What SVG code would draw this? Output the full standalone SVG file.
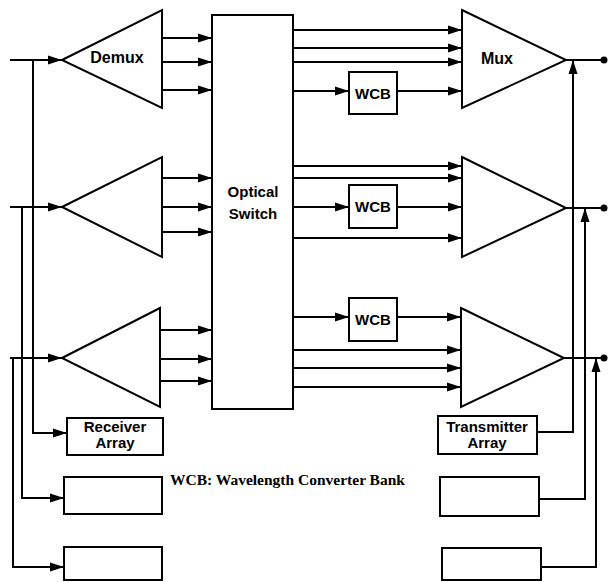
<svg xmlns="http://www.w3.org/2000/svg" width="608" height="582" viewBox="0 0 608 582">
<style>
.s{fill:none;stroke:#000;stroke-width:2}
.b{fill:#fff;stroke:#000;stroke-width:2}
.t{font-family:"Liberation Sans",Arial,sans-serif;font-weight:bold;font-size:15px;text-anchor:middle;fill:#000}
.l{font-family:"Liberation Serif","Times New Roman",serif;font-weight:bold;font-size:15.5px;fill:#000}
.a{marker-end:url(#ah)}
</style>
<defs>
<marker id="ah" markerWidth="14" markerHeight="10" refX="14" refY="5" orient="auto" markerUnits="userSpaceOnUse">
<path d="M0,0.5 L14,5 L0,9.5 z" fill="#000"/>
</marker>
</defs>
<g id="connectors" class="s">
<path class="a" d="M10,60 H62"/>
<path class="a" d="M10,207 H62"/>
<path class="a" d="M10,358 H62"/>
<path class="a" d="M33,60 V433 H67"/>
<path class="a" d="M22,207 V498 H64"/>
<path class="a" d="M13,358 V567 H64"/>
<path class="a" d="M162,38 H212"/>
<path class="a" d="M162,62 H212"/>
<path class="a" d="M162,90 H212"/>
<path class="a" d="M162,178 H212"/>
<path class="a" d="M162,207 H212"/>
<path class="a" d="M162,232 H212"/>
<path class="a" d="M160,330 H212"/>
<path class="a" d="M160,359 H212"/>
<path class="a" d="M160,381 H212"/>
<path class="a" d="M293,30 H462"/>
<path class="a" d="M293,48 H462"/>
<path class="a" d="M293,62 H462"/>
<path class="a" d="M293,91 H349"/>
<path class="a" d="M397,91 H462"/>
<path class="a" d="M293,166 H462"/>
<path class="a" d="M293,178 H462"/>
<path class="a" d="M293,207 H349"/>
<path class="a" d="M397,207 H462"/>
<path class="a" d="M293,238 H462"/>
<path class="a" d="M293,317 H349"/>
<path class="a" d="M397,317 H461"/>
<path class="a" d="M293,350 H461"/>
<path class="a" d="M293,368 H461"/>
<path class="a" d="M293,387 H461"/>
<path d="M566,60 H604"/>
<path d="M566,208 H604"/>
<path d="M564,358 H604"/>
<path class="a" d="M537,432 H573 V60"/>
<path class="a" d="M539,499 H585 V208"/>
<path class="a" d="M541,567 H596 V358"/>
</g>
<g id="dots" fill="#000">
<circle cx="604" cy="60" r="3.5"/>
<circle cx="604" cy="208" r="3.5"/>
<circle cx="604" cy="358" r="3.5"/>
</g>
<g id="demux1"><polygon class="b" points="62,60 162,10 162,108"/><text class="t" x="117" y="63" style="font-size:16px">Demux</text></g>
<g id="demux2"><polygon class="b" points="62,207 162,157 162,257"/></g>
<g id="demux3"><polygon class="b" points="62,358 160,308 160,407"/></g>
<g id="switch"><rect class="b" x="212" y="15" width="81" height="394"/><text class="t" x="253" y="197">Optical</text><text class="t" x="253" y="219">Switch</text></g>
<g id="wcb1"><rect class="b" x="349" y="72" width="48" height="42"/><text class="t" x="373" y="99">WCB</text></g>
<g id="wcb2"><rect class="b" x="349" y="185" width="48" height="43"/><text class="t" x="373" y="212">WCB</text></g>
<g id="wcb3"><rect class="b" x="349" y="298" width="48" height="43"/><text class="t" x="373" y="325">WCB</text></g>
<g id="mux1"><polygon class="b" points="462,10 566,60 462,108"/><text class="t" x="497" y="64" style="font-size:16px">Mux</text></g>
<g id="mux2"><polygon class="b" points="462,157 566,208 462,257"/></g>
<g id="mux3"><polygon class="b" points="461,308 564,358 461,407"/></g>
<g id="receiver"><rect class="b" x="67" y="418" width="96" height="37"/><text class="t" x="115" y="432">Receiver</text><text class="t" x="115" y="448">Array</text></g>
<g id="rx2"><rect class="b" x="64" y="477" width="98" height="37"/></g>
<g id="rx3"><rect class="b" x="64" y="547" width="98" height="33"/></g>
<g id="transmitter"><rect class="b" x="438" y="416" width="99" height="38"/><text class="t" x="487" y="432">Transmitter</text><text class="t" x="487" y="448">Array</text></g>
<g id="tx2"><rect class="b" x="440" y="477" width="99" height="39"/></g>
<g id="tx3"><rect class="b" x="442" y="548" width="99" height="32"/></g>
<g id="legend"><text class="l" x="170" y="485">WCB: Wavelength Converter Bank</text></g>
</svg>
